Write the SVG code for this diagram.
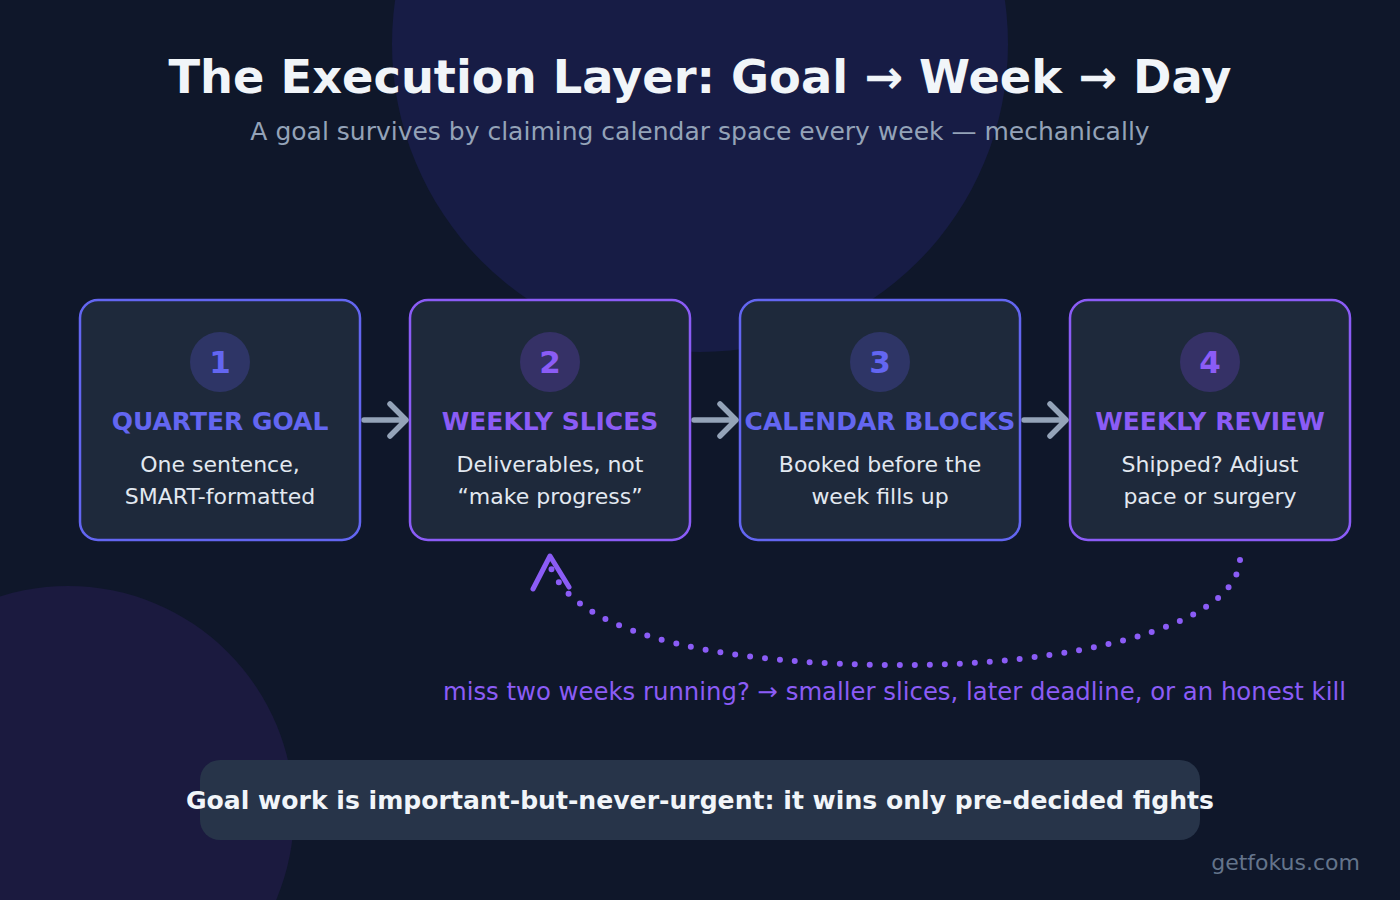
<svg xmlns="http://www.w3.org/2000/svg" width="1400" height="900" viewBox="0 0 1400 900">
<defs>
<style>
.t{font-family:"DejaVu Sans",sans-serif}
.box{fill:#1e293b;stroke-width:2.5}
.num{font-family:"DejaVu Sans",sans-serif;font-weight:bold;font-size:31px;text-anchor:middle}
.hd{font-family:"DejaVu Sans",sans-serif;font-weight:bold;font-size:25px;text-anchor:middle}
.ds{font-family:"DejaVu Sans",sans-serif;font-size:22px;fill:#e2e8f0;text-anchor:middle}
.arr{fill:none;stroke:#94a3b8;stroke-width:5.5;stroke-linecap:round;stroke-linejoin:round}
</style>
</defs>
<rect width="1400" height="900" fill="#0f172a"/>
<circle cx="700" cy="44" r="308" fill="#171c45"/>
<circle cx="68" cy="812" r="226" fill="#1b1a3f"/>
<text class="t" x="700" y="93" text-anchor="middle" font-size="46.3" font-weight="bold" fill="#f1f5f9">The Execution Layer: Goal → Week → Day</text>
<text class="t" x="700" y="140" text-anchor="middle" font-size="25" fill="#94a3b8">A goal survives by claiming calendar space every week — mechanically</text>
<g id="connectors">
<path class="arr" d="M364 420 H405 M390 404 L406 420 L390 436"/>
<path class="arr" d="M694 420 H735 M720 404 L736 420 L720 436"/>
<path class="arr" d="M1024 420 H1065 M1050 404 L1066 420 L1050 436"/>
<path d="M1240 560 C1235 630 1060 666 900 665 C740 665 580 640 551 568" fill="none" stroke="#8b5cf6" stroke-width="6" stroke-linecap="round" stroke-dasharray="0 15"/>
<path d="M533 589 L550 556 L569 587" fill="none" stroke="#8b5cf6" stroke-width="5" stroke-linecap="round" stroke-linejoin="round"/>
<text class="t" x="1346" y="700" text-anchor="end" font-size="24.35" fill="#8b5cf6">miss two weeks running? → smaller slices, later deadline, or an honest kill</text>
</g>
<g id="node1">
<rect class="box" x="80" y="300" width="280" height="240" rx="18" stroke="#6366f1"/>
<circle cx="220" cy="362" r="30" fill="#2e3566"/>
<text class="num" x="220" y="373" fill="#6366f1">1</text>
<text class="hd" x="220" y="430" fill="#6366f1">QUARTER GOAL</text>
<text class="ds" x="220" y="472">One sentence,</text>
<text class="ds" x="220" y="504">SMART-formatted</text>
</g>
<g id="node2">
<rect class="box" x="410" y="300" width="280" height="240" rx="18" stroke="#8b5cf6"/>
<circle cx="550" cy="362" r="30" fill="#353166"/>
<text class="num" x="550" y="373" fill="#8b5cf6">2</text>
<text class="hd" x="550" y="430" fill="#8b5cf6">WEEKLY SLICES</text>
<text class="ds" x="550" y="472">Deliverables, not</text>
<text class="ds" x="550" y="504">“make progress”</text>
</g>
<g id="node3">
<rect class="box" x="740" y="300" width="280" height="240" rx="18" stroke="#6366f1"/>
<circle cx="880" cy="362" r="30" fill="#2e3566"/>
<text class="num" x="880" y="373" fill="#6366f1">3</text>
<text class="hd" x="880" y="430" fill="#6366f1">CALENDAR BLOCKS</text>
<text class="ds" x="880" y="472">Booked before the</text>
<text class="ds" x="880" y="504">week fills up</text>
</g>
<g id="node4">
<rect class="box" x="1070" y="300" width="280" height="240" rx="18" stroke="#8b5cf6"/>
<circle cx="1210" cy="362" r="30" fill="#353166"/>
<text class="num" x="1210" y="373" fill="#8b5cf6">4</text>
<text class="hd" x="1210" y="430" fill="#8b5cf6">WEEKLY REVIEW</text>
<text class="ds" x="1210" y="472">Shipped? Adjust</text>
<text class="ds" x="1210" y="504">pace or surgery</text>
</g>
<g id="footer">
<rect x="200" y="760" width="1000" height="80" rx="20" fill="#273449"/>
<text class="t" x="700" y="809" text-anchor="middle" font-size="25.1" font-weight="bold" fill="#f1f5f9">Goal work is important-but-never-urgent: it wins only pre-decided fights</text>
</g>
<text class="t" x="1360" y="870" text-anchor="end" font-size="22" fill="#64748b">getfokus.com</text>
</svg>
